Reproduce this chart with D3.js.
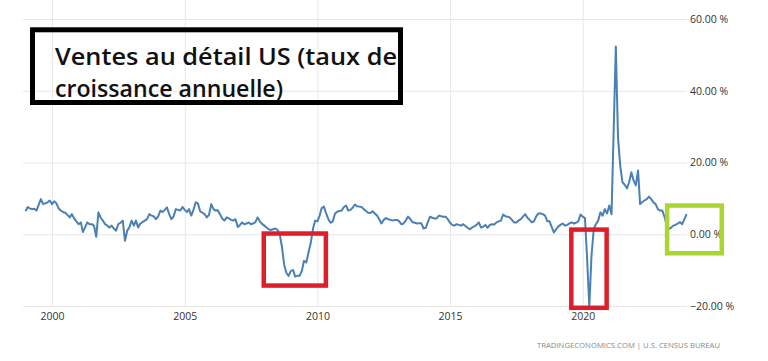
<!DOCTYPE html>
<html>
<head>
<meta charset="utf-8">
<script src="https://cdn.jsdelivr.net/npm/d3@7"></script>
<style>
  html, body { margin: 0; padding: 0; background: #fff; }
  svg { display: block; }
</style>
</head>
<body>
<svg id="chart" width="768" height="361"></svg>
<script>
// ---- data (monthly YoY growth of US retail sales, %) ----
const startYear = 1999;
const yoy = [
  6.4, 7.6, 7.2, 7.0, 7.1, 6.6, 8.2, 9.8, 8.4, 8.6, 8.9, 9.4,        // 1999
  8.4, 9.2, 8.6, 7.2, 6.6, 6.2, 6.0, 5.4, 4.7, 5.6, 4.4, 3.6,        // 2000
  2.8, 3.3, 0.6, 2.0, 3.3, 2.8, 2.8, 2.4, -0.7, 6.1, 4.6, 3.8,       // 2001
  2.8, 2.4, 1.9, 2.4, 1.6, 1.0, 2.8, 3.2, 3.8, -1.8, 1.0, 1.9,       // 2002
  3.8, 2.4, 3.8, 1.9, 3.0, 3.4, 3.8, 4.2, 5.6, 5.2, 5.0, 4.2,        // 2003
  5.0, 6.6, 6.2, 6.8, 7.5, 5.6, 4.2, 5.0, 7.0, 6.8, 6.6, 7.6,        // 2004
  6.8, 6.2, 7.0, 5.2, 6.8, 8.9, 8.6, 6.4, 6.0, 5.6, 4.7, 5.4,        // 2005
  8.4, 7.0, 6.6, 6.7, 5.6, 4.4, 3.8, 4.7, 4.4, 4.0, 3.8, 4.2,        // 2006
  2.0, 2.6, 3.3, 2.8, 3.0, 3.3, 2.8, 3.0, 3.4, 4.7, 3.6, 2.9,        // 2007
  2.4, 1.9, 1.4, 1.2, 1.4, 1.6, 1.2, 0.0, -3.7, -8.5, -10.8, -11.6,  // 2008
  -10.2, -10.0, -11.8, -11.6, -11.6, -10.2, -7.4, -7.9, -5.0, -2.5, 1.5, 3.8, // 2009
  3.6, 5.2, 7.3, 7.7, 5.8, 4.2, 3.2, 3.6, 5.8, 6.3, 6.5, 6.6,        // 2010
  7.6, 8.0, 6.6, 6.8, 7.4, 8.3, 7.8, 7.7, 7.6, 7.0, 6.5, 6.0,        // 2011
  5.9, 6.4, 5.8, 5.2, 4.2, 3.0, 4.0, 4.5, 4.2, 4.0, 3.8, 4.0,        // 2012
  4.0, 3.6, 2.8, 3.0, 3.8, 4.9, 4.3, 3.4, 3.2, 3.0, 3.1, 3.1,        // 2013
  1.6, 1.8, 3.4, 4.9, 4.6, 4.4, 4.4, 5.2, 5.0, 4.9, 4.9, 4.2,        // 2014
  3.2, 2.6, 2.4, 2.8, 2.6, 2.4, 2.8, 2.3, 1.8, 1.4, 1.9, 2.2,        // 2015
  2.6, 3.3, 1.9, 2.1, 2.6, 1.8, 2.6, 2.8, 2.7, 3.3, 3.6, 3.8,        // 2016
  5.5, 5.0, 4.9, 4.7, 4.0, 3.3, 3.3, 3.8, 4.2, 4.9, 5.6, 4.6,        // 2017
  4.0, 3.3, 3.6, 5.0, 5.8, 5.8, 5.6, 5.2, 3.6, 3.6, 2.0, 0.5,        // 2018
  1.4, 2.2, 2.6, 3.0, 2.4, 2.6, 3.0, 3.3, 3.0, 3.2, 3.6, 5.5,        // 2019
  4.9, 4.5, -6.5, -20.3, -6.0, 1.4, 2.8, 3.8, 6.1, 5.2, 7.0, 5.8,    // 2020
  8.0, 5.6, 28.0, 52.3, 27.0, 19.0, 14.5, 13.8, 12.8, 14.5, 17.3, 15.0, // 2021
  13.6, 17.8, 8.4, 9.0, 9.4, 9.8, 10.5, 9.8, 8.9, 8.4, 7.0, 6.6,     // 2022
  6.6, 4.8, 2.6, 1.5, 1.8, 2.4, 2.6, 3.0, 3.4, 2.8, 4.2, 5.6         // 2023
];
const xTickYears = [2000, 2005, 2010, 2015, 2020];
const yTicks = [-20, 0, 20, 40, 60];
const titleLines = ["Ventes au détail US (taux de", "croissance annuelle)"];
const footer = "TRADINGECONOMICS.COM  |  U.S. CENSUS BUREAU";
// highlight boxes: [start (fractional year), end (fractional year), top %, bottom %]
const redBoxes = [[2007.98, 2010.32, 0.2, -14.3], [2019.57, 2020.90, 1.3, -20.5]];
const greenBoxes = [[2023.18, 2025.24, 8.0, -5.3]];

// ---- scales ----
const svg = d3.select("#chart");
const x = d3.scaleTime()
  .domain([new Date(1999, 0, 1), new Date(2020, 0, 1)])
  .range([25.5, 582.7]);
const y = d3.scaleLinear().domain([-20, 60]).range([306, 19]);
const yearDate = f => {
  const yr = Math.floor(f);
  return new Date(yr, 0, 1).getTime() + (f - yr) * (new Date(yr + 1, 0, 1) - new Date(yr, 0, 1));
};
const data = yoy.map((v, i) => ({ date: new Date(startYear, i, 1), v }));

const plotLeft = 23, plotRight = 687, axisY = 307;

// ---- x grid + labels ----
const xAxis = d3.axisBottom(x)
  .tickValues(xTickYears.map(yy => new Date(yy, 0, 1)))
  .tickFormat(d3.timeFormat("%Y"))
  .tickSize(-axisY)
  .tickPadding(6);
const gx = svg.append("g").attr("transform", `translate(0,${axisY})`).call(xAxis);
gx.select(".domain").remove();
gx.selectAll(".tick line").attr("stroke", "#e8e8e8").attr("stroke-width", 1);
gx.selectAll(".tick text")
  .attr("fill", "#333")
  .style("font-family", "'Open Sans', sans-serif")
  .style("font-size", "10.5px");

// ---- y grid + labels ----
const yAxis = d3.axisRight(y)
  .tickValues(yTicks)
  .tickFormat(d => d3.format(".2f")(d) + " %")
  .tickSize(plotRight - plotLeft)
  .tickPadding(3);
const gy = svg.append("g").attr("transform", `translate(${plotLeft},0)`).call(yAxis);
gy.select(".domain").remove();
gy.selectAll(".tick line").attr("stroke", "#e8e8e8").attr("stroke-width", 1);
gy.selectAll(".tick text")
  .attr("fill", "#333")
  .style("font-family", "'Open Sans', sans-serif")
  .style("font-size", "10.5px");

// ---- line ----
const line = d3.line().x(d => x(d.date)).y(d => y(d.v));
svg.append("path")
  .datum(data)
  .attr("fill", "none")
  .attr("stroke", "#4a80b4")
  .attr("stroke-width", 2)
  .attr("stroke-linejoin", "round")
  .attr("d", line);

// ---- highlight boxes ----
function drawBoxes(boxes, color) {
  svg.selectAll(null).data(boxes).enter().append("rect")
    .attr("x", d => x(yearDate(d[0])))
    .attr("y", d => y(d[2]))
    .attr("width", d => x(yearDate(d[1])) - x(yearDate(d[0])))
    .attr("height", d => y(d[3]) - y(d[2]))
    .attr("fill", "none")
    .attr("stroke", color)
    .attr("stroke-width", 4.5);
}
drawBoxes(redBoxes, "#dc1f2b");
drawBoxes(greenBoxes, "#abd531");

// ---- footer ----
svg.append("text")
  .attr("x", 537).attr("y", 348)
  .attr("textLength", 183)
  .attr("lengthAdjust", "spacingAndGlyphs")
  .attr("fill", "#8a8a8a")
  .style("font-family", "'Open Sans', sans-serif")
  .style("font-size", "7.5px")
  .text(footer);

// ---- title box ----
svg.append("rect")
  .attr("x", 32.5).attr("y", 29.8)
  .attr("width", 368).attr("height", 72.7)
  .attr("fill", "none")
  .attr("stroke", "#000")
  .attr("stroke-width", 5);
const titleWidths = [342, 228];
svg.selectAll(".title").data(titleLines).enter().append("text")
  .attr("class", "title")
  .attr("x", 55)
  .attr("y", (d, i) => 65 + i * 31.5)
  .attr("textLength", (d, i) => titleWidths[i])
  .attr("lengthAdjust", "spacingAndGlyphs")
  .attr("fill", "#111")
  .style("font-family", "'Open Sans', sans-serif")
  .style("font-weight", "600")
  .style("font-size", "24px")
  .text(d => d);
</script>
</body>
</html>
